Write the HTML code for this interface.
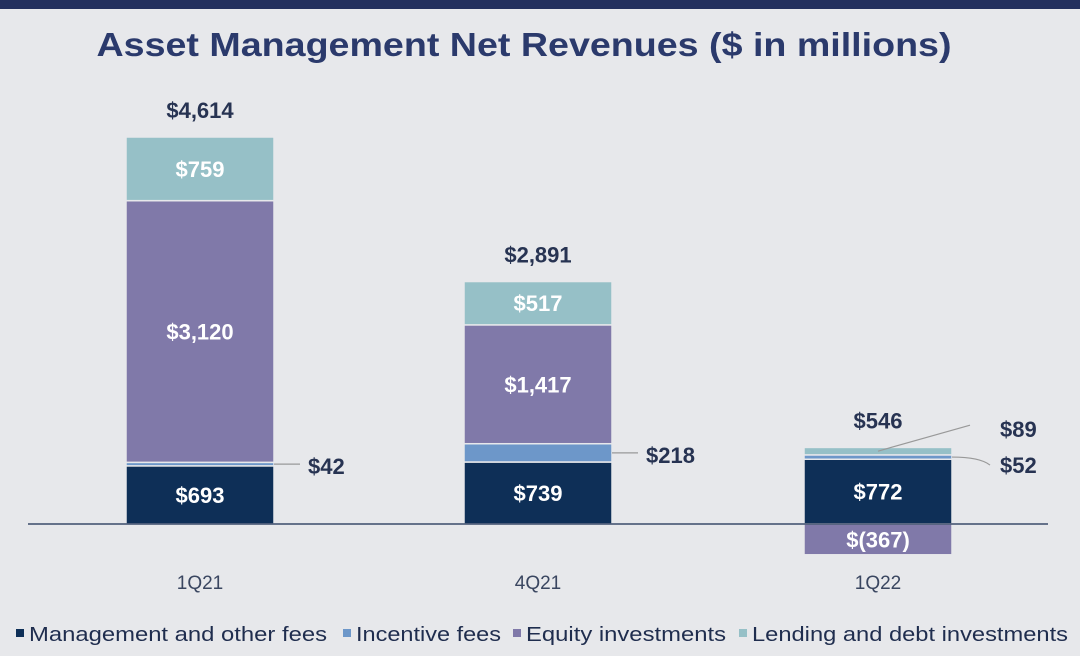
<!DOCTYPE html>
<html><head><meta charset="utf-8"><style>
html,body{margin:0;padding:0;background:#e7e8eb;}
body{width:1080px;height:656px;overflow:hidden;position:relative;font-family:"Liberation Sans",Arial,sans-serif;}
</style></head><body>
<div style="position:absolute;left:0;top:0;width:1080px;height:9px;background:#23305e;"></div>
<svg id="chart" width="1080" height="656" style="position:absolute;left:0;top:0">
<text x="524" y="56" text-anchor="middle" font-size="33" font-weight="bold" fill="#2b3a6c" textLength="855" lengthAdjust="spacingAndGlyphs">Asset Management Net Revenues ($ in millions)</text>
</svg>
<script>
const categories=["1Q21","4Q21","1Q22"];
const mgmtFees=[693,739,772];
const incentiveFees=[42,218,52];
const equityInv=[3120,1417,-367];
const lendingDebt=[759,517,89];
const totals=["$4,614","$2,891","$546"];
const seriesNames=["Management and other fees","Incentive fees","Equity investments","Lending and debt investments"];

const svg=document.getElementById('chart');
const NS='http://www.w3.org/2000/svg';
const colors=["#0e2f57","#6d97c9","#8079a9","#96c0c7"];
const series=[mgmtFees,incentiveFees,equityInv,lendingDebt];
const baseY=524, scale=387/4614;
const y=v=>baseY-v*scale;
const centers=[200,538,878], barW=148;
const x=i=>centers[i]-barW/2;
function mk(tag,attrs){const e=document.createElementNS(NS,tag);for(const k in attrs)e.setAttribute(k,attrs[k]);svg.appendChild(e);return e;}
function fmt(v){return v<0?"$("+(-v).toLocaleString()+")":"$"+v.toLocaleString();}

categories.forEach((c,i)=>{
  let pos=0,neg=0,top=baseY;
  series.forEach((s,k)=>{
    const v=s[i];let y0,y1;
    if(v>=0){y0=y(pos+v);y1=y(pos);pos+=v;}else{y0=y(neg);y1=y(neg+v);neg+=v;}
    const r=mk('rect',{x:x(i),y:y0,width:barW,height:Math.max(1,y1-y0),fill:colors[k],stroke:'#e7e8eb','stroke-width':1.5});
    
    
    const h=y1-y0, mid=(y0+y1)/2;
    if(h>30){
      const t=mk('text',{x:centers[i],y:mid+8,'text-anchor':'middle','font-size':22,'font-weight':'bold',fill:'#fff'});
      t.textContent=fmt(v);
      
      
    } else {
      let lx,ly;
      if(k===3&&i===2){lx=x(i)+barW+48;ly=mid-22;
        mk('path',{d:`M${centers[i]} ${mid} L${lx-30} ${ly-4}`,stroke:'#999',fill:'none','stroke-width':1.2});}
      else if(i===2){lx=x(i)+barW+48;ly=mid+8;
        mk('path',{d:`M${x(i)+barW} ${mid} Q${lx-20} ${mid} ${lx-10} ${ly}`,stroke:'#999',fill:'none','stroke-width':1.2});}
      else{lx=x(i)+barW+34;ly=mid+2;
        mk('path',{d:`M${x(i)+barW} ${mid} L${lx-8} ${mid}`,stroke:'#999',fill:'none','stroke-width':1.2});}
      const t=mk('text',{x:lx,y:ly+8,'font-size':22,'font-weight':'bold',fill:'#273352'});
      t.textContent=fmt(v);
      
      
    }
    top=Math.min(top,y0);
  });
  const tt=mk('text',{x:centers[i],y:top-19,'text-anchor':'middle','font-size':22,'font-weight':'bold',fill:'#273352'});
  tt.textContent=totals[i];
  
  
  const cl=mk('text',{x:centers[i],y:589,'text-anchor':'middle','font-size':19,fill:'#3a4660'});
  cl.textContent=c;
  
  
});
const ax=mk('line',{x1:28,x2:1048,y1:baseY,y2:baseY,stroke:'#3a4a6a','stroke-width':1.5});



const legX=[16,343,513,739];
const legW=[298,145,200,316];
seriesNames.forEach((n,k)=>{
  const r=mk('rect',{x:legX[k],y:629,width:8,height:8,fill:colors[k]});
  
  
  const t=mk('text',{x:legX[k]+13,y:641,'font-size':20,fill:'#1f2d4e',textLength:legW[k],lengthAdjust:'spacingAndGlyphs'});
  t.textContent=n;
  
  
});
</script>
</body></html>
